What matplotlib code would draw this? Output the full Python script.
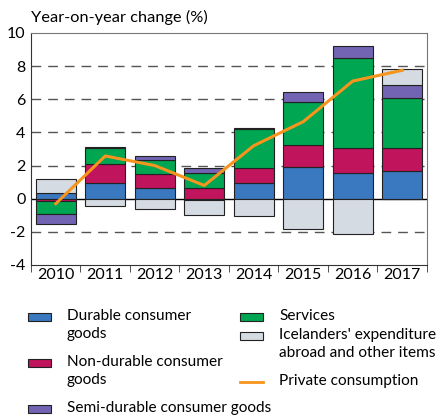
import numpy as np
import matplotlib
matplotlib.use("Agg")
from matplotlib import pyplot as plt
from matplotlib.patches import Rectangle
from matplotlib.lines import Line2D

plt.rcParams['font.family'] = ['Lato', 'DejaVu Sans']

years = ["2010", "2011", "2012", "2013", "2014", "2015", "2016", "2017"]
durable = [0.35, 0.95, 0.65, -0.05, 0.95, 1.9, 1.55, 1.65]
non_durable = [-0.15, 1.15, 0.85, 0.65, 0.9, 1.35, 1.5, 1.4]
services = [-0.8, 0.95, 0.85, 0.9, 2.35, 2.6, 5.45, 3.05]
semi_durable = [-0.6, 0.05, 0.25, 0.3, 0.05, 0.6, 0.7, 0.75]
other = [0.85, -0.45, -0.65, -0.95, -1.05, -1.8, -2.15, 0.95]
private_cons = [-0.3, 2.58, 2.0, 0.8, 3.2, 4.65, 7.1, 7.75]

c_dur, c_non, c_semi, c_serv, c_oth, c_line = "#3a78c0", "#c0145c", "#7264b2", "#00a651", "#d5dbe2", "#f7941d"

W, H = 439, 418
fig = plt.figure(figsize=(W / 100, H / 100), dpi=100)
ax = fig.add_axes([31 / W, 1 - 265 / H, 396 / W, 232 / H])

x = np.arange(len(years))
pos_base = np.zeros(len(years))
neg_base = np.zeros(len(years))
# stacking order from zero outward
for vals, col in [(durable, c_dur), (non_durable, c_non), (services, c_serv),
                  (semi_durable, c_semi), (other, c_oth)]:
    v = np.array(vals)
    bottom = np.where(v >= 0, pos_base, neg_base)
    ax.bar(x, v, width=0.8, bottom=bottom, color=col,
           edgecolor="#222222", linewidth=0.8, zorder=3)
    pos_base += np.where(v >= 0, v, 0)
    neg_base += np.where(v < 0, v, 0)

ax.plot(x, private_cons, color=c_line, linewidth=2.2, zorder=4)

for yv in [-2, 2, 4, 6, 8]:
    ax.axhline(yv, color="#555555", linewidth=1.0, dashes=(7, 5), zorder=1)
ax.axhline(0, color="black", linewidth=1.0, zorder=2)

fs = 11.5
ax.set_xlim(-0.5, len(years) - 0.5)
ax.set_ylim(-4, 10)
ax.set_yticks([-4, -2, 0, 2, 4, 6, 8, 10])
ax.set_yticklabels(["-4", "-2", "0", "2", "4", "6", "8", "10"], fontsize=fs)
ax.tick_params(axis="y", length=0, pad=4)
ax.set_xticks(x)
ax.set_xticklabels(years, fontsize=fs)
ax.tick_params(axis="x", which="major", length=0, pad=2)
ax.set_xticks(np.arange(-0.5, len(years)), minor=True)
ax.tick_params(axis="x", which="minor", length=5, direction="out", color="#333333")

for side in ["top", "right"]:
    ax.spines[side].set_color("#777777")
for side in ["left", "bottom"]:
    ax.spines[side].set_color("#333333")

fig.text(31 / W, 1 - 17 / H, "Year-on-year change (%)", fontsize=11.8, va="center", ha="left")

# legend drawn by hand (pixel positions from the top-left, py = centre of first line)
lfs = 11.1

def patch_item(px, py, label, col):
    fig.add_artist(Rectangle((px / W, 1 - (py + 4) / H), 23 / W, 8 / H,
                             facecolor=col, edgecolor="#222222", linewidth=0.8,
                             transform=fig.transFigure))
    fig.text((px + 39) / W, 1 - (py - 8) / H, label, fontsize=lfs, va="top", ha="left",
             linespacing=1.35)

def line_item(px, py, label, col):
    fig.add_artist(Line2D([px / W, (px + 23) / W], [1 - py / H, 1 - py / H],
                          color=col, linewidth=2, transform=fig.transFigure))
    fig.text((px + 39) / W, 1 - (py - 8) / H, label, fontsize=lfs, va="top", ha="left")

patch_item(28, 317, "Durable consumer\ngoods", c_dur)
patch_item(28, 363, "Non-durable consumer\ngoods", c_non)
patch_item(28, 409, "Semi-durable consumer goods", c_semi)
patch_item(240, 317, "Services", c_serv)
patch_item(240, 336, "Icelanders' expenditure\nabroad and other items", c_oth)
line_item(240, 382, "Private consumption", c_line)

plt.savefig("out.png", dpi=100)
